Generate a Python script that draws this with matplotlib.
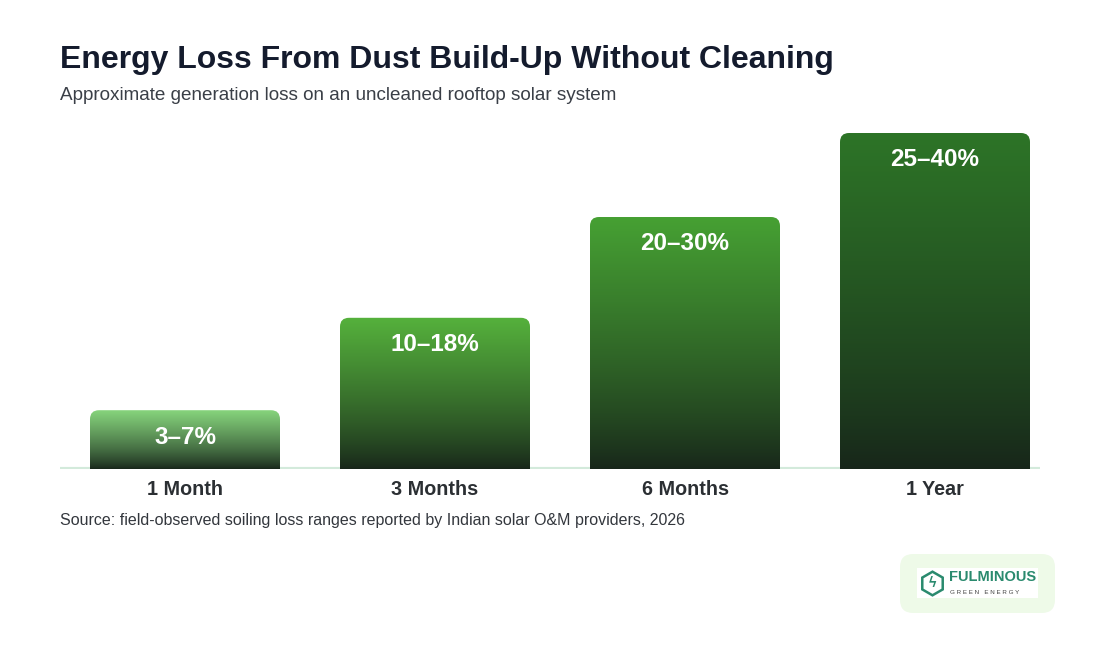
import numpy as np
import matplotlib
matplotlib.use("Agg")
import matplotlib.pyplot as plt
from matplotlib.patches import FancyBboxPatch, Rectangle
from matplotlib.lines import Line2D
from matplotlib.colors import LinearSegmentedColormap

plt.rcParams['font.family'] = ['Liberation Sans', 'DejaVu Sans']

# data
periods = ['1 Month', '3 Months', '6 Months', '1 Year']
loss_high = [7, 18, 30, 40]          # upper end of range, sets bar height
range_labels = ['3–7%', '10–18%', '20–30%', '25–40%']
top_colors = ['#86d47c', '#55b13c', '#46a033', '#2d7427']
bottom_color = '#17251a'

W, H = 1100, 650
fig = plt.figure(figsize=(W / 100, H / 100), dpi=100)
fig.patch.set_facecolor('white')

# axes placed in pixels: baseline at y=469, top of tallest bar at y=133
ax = fig.add_axes([60 / W, (H - 469) / H, 980 / W, (469 - 133) / H])
ax.set_xlim(-0.5, 3.42)
ax.set_ylim(0, 40)
for s in ax.spines.values():
    s.set_visible(False)
ax.set_yticks([])
ax.tick_params(axis='x', length=0, pad=8)
ax.set_xticks(range(len(periods)))
ax.set_xticklabels(periods, fontsize=14.2, fontweight='bold', color='#2b2f33')
ax.axhline(0, color='#d3eadb', lw=3, zorder=1)

bar_w = 0.76
# rounding: 8 px corner radius
px_x = 980 / (3.42 + 0.5)
px_y = (469 - 133) / 40
r = 9 / px_x
aspect = px_x / px_y

for i, (h, lab, tc) in enumerate(zip(loss_high, range_labels, top_colors)):
    x0 = i - bar_w / 2
    clip = FancyBboxPatch((x0, -3), bar_w, h + 3,
                          boxstyle=f"round,pad=0,rounding_size={r}",
                          mutation_aspect=aspect, facecolor='none',
                          edgecolor='none', transform=ax.transData)
    ax.add_patch(clip)
    cmap = LinearSegmentedColormap.from_list(f'g{i}', [bottom_color, tc])
    grad = np.linspace(0, 1, 256).reshape(-1, 1)
    grad = grad ** 0.8
    im = ax.imshow(grad, extent=(x0, x0 + bar_w, 0, h), origin='lower',
                   cmap=cmap, aspect='auto', zorder=2, interpolation='bicubic')
    im.set_clip_path(clip)
    ax.annotate(lab, (i, h), xytext=(0, -27), textcoords='offset pixels',
                ha='center', va='center', fontsize=17.5, fontweight='bold',
                color='white', zorder=3)

ax.set_xlim(-0.5, 3.42)
ax.set_ylim(0, 40)

fig.text(60 / W, 1 - 60 / H, 'Energy Loss From Dust Build-Up Without Cleaning',
         fontsize=23, fontweight='bold', color='#141b2d', va='center', ha='left')
fig.text(60 / W, 1 - 96 / H, 'Approximate generation loss on an uncleaned rooftop solar system',
         fontsize=13.6, color='#3a3f47', va='center', ha='left')
fig.text(60 / W, 1 - 520 / H,
         'Source: field-observed soiling loss ranges reported by Indian solar O&M providers, 2026',
         fontsize=11.5, color='#33373d', va='center', ha='left')

# logo badge
badge = FancyBboxPatch((900 / W, 1 - 613 / H), 155 / W, 59 / H,
                       boxstyle="round,pad=0,rounding_size=0.012",
                       mutation_aspect=W / H,
                       transform=fig.transFigure, facecolor='#eefae8',
                       edgecolor='none')
fig.patches.append(badge)
fig.patches.append(Rectangle((917 / W, 1 - 598 / H), 121 / W, 30 / H,
                             transform=fig.transFigure, facecolor='white',
                             edgecolor='none'))
fig.lines.append(Line2D([932 / W], [1 - 583 / H], marker='h', markersize=17,
                        mfc='none', mec='#2a8a6e', mew=1.8,
                        transform=fig.transFigure))
fig.text(932 / W, 1 - 583 / H, 'ϟ', fontsize=10, color='#2a8a6e',
         ha='center', va='center', fontweight='bold')
fig.text(949 / W, 1 - 577 / H, 'FULMINOUS', fontsize=10.5, color='#2a8a6e',
         ha='left', va='center', fontweight='bold')
fig.text(950 / W, 1 - 592 / H, 'G R E E N   E N E R G Y', fontsize=4.5,
         color='#444444', ha='left', va='center')

fig.savefig('out.png', dpi=100, facecolor='white')
